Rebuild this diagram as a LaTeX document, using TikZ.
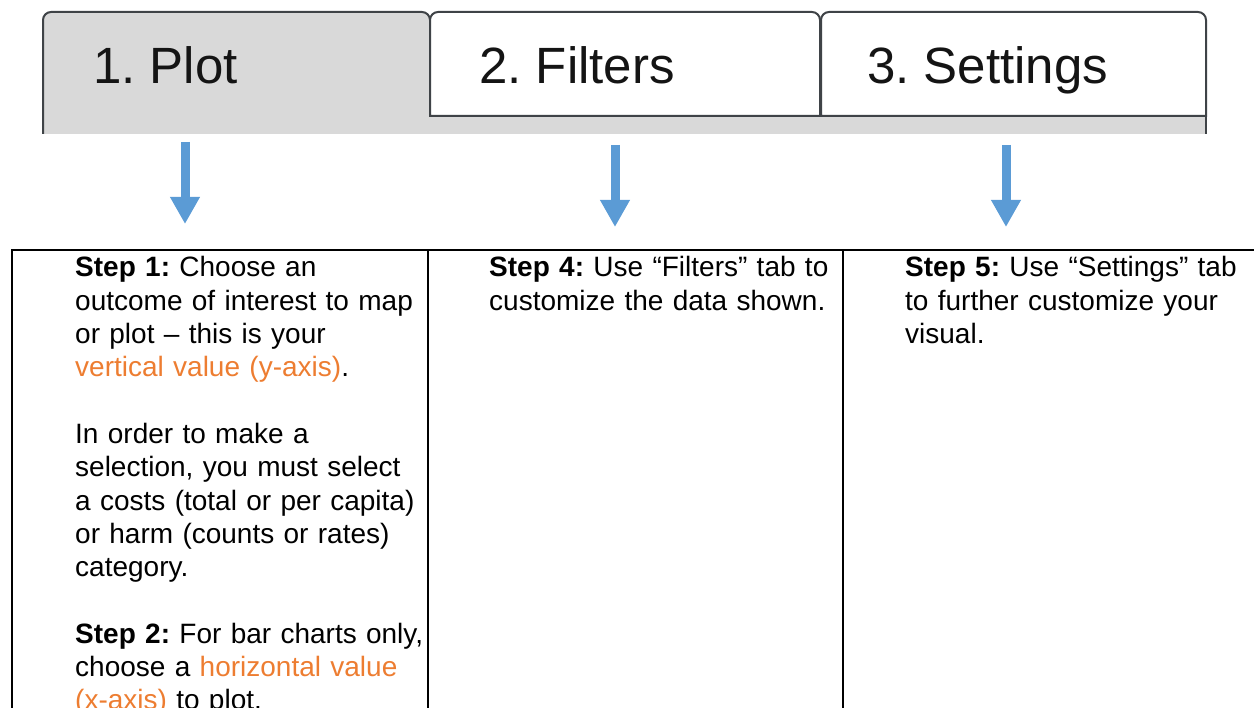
\documentclass[tikz,border=0pt]{standalone}
\usepackage{fontspec}
\setmainfont{Liberation Sans}
\usetikzlibrary{arrows.meta}
\definecolor{tabgray}{HTML}{D9D9D9}
\definecolor{tabline}{HTML}{3F4347}
\definecolor{arrowblue}{HTML}{5B9BD5}
\definecolor{hlorange}{HTML}{ED7D31}

\begin{document}
\frenchspacing
\begin{tikzpicture}[x=1pt,y=-1pt,
    tab/.style = {draw=tabline, line width=2pt},
    tablabel/.style = {anchor=base west, inner sep=0pt, text=black!92,
                font=\fontsize{51}{60}\selectfont},
    steptext/.style = {anchor=base west, inner sep=0pt, align=left,
                text width=#1, font=\fontsize{28}{33.3}\selectfont},
    steptext/.default = 390pt,  % width of one column of text
    cell/.style = {draw=black, line width=2.4pt},
    down/.style = {draw=arrowblue, line width=9pt,
                -{Triangle[width=28pt,length=27pt]}}
                    ]
    \useasboundingbox (0,0) rectangle (1254,708);
    \def\ttop{12}
    \def\tbot{116}
    \def\sbot{134}
    \def\r{8pt}
    % gray strip under the tabs
    \fill[tabgray] (43,\tbot) rectangle (1206,\sbot);
    \fill[tabgray] (43,\sbot) [rounded corners=\r] -- (43,\ttop) -- (430,\ttop) [sharp corners] -- (430,\sbot) -- cycle;
    \draw[tab] (43,\sbot) [rounded corners=\r] -- (43,\ttop) -- (430,\ttop) [sharp corners] -- (430,\tbot);
    \draw[tab,fill=white] (430,\tbot) [rounded corners=\r] -- (430,\ttop) -- (820,\ttop) [sharp corners] -- (820,\tbot) -- cycle;
    \draw[tab,fill=white] (821,\tbot) [rounded corners=\r] -- (821,\ttop) -- (1206,\ttop) [sharp corners] -- (1206,\tbot) -- cycle;
    \draw[tab] (1206,\tbot) -- (1206,\sbot);
    \node[tablabel] (plot) at (93,84) {1. Plot};
    \node[tablabel] (filters) at (479,84) {2. Filters};
    \node[tablabel] (settings) at (867,84) {3. Settings};
    % arrows
    \coordinate (a1) at (185,142);
    \coordinate (b1) at (185,224);
    \coordinate (a2) at (615,145);
    \coordinate (b2) at (615,227);
    \coordinate (a3) at (1006,145);
    \coordinate (b3) at (1006,227);
    \draw[down] (a1) -- (b1);
    \draw[down] (a2) -- (b2);
    \draw[down] (a3) -- (b3);
    % table
    \draw[cell] (12,760) -- (12,250) -- (1260,250);
    \draw[cell] (428,250) -- (428,760);
    \draw[cell] (843,250) -- (843,760);
    \node[steptext] (step1) at (75,277) {\textbf{Step 1:} Choose an\\
        outcome of interest to map\\
        or plot – this is your\\
        \textcolor{hlorange}{vertical value (y-axis)}.\\[33.3pt]
        In order to make a\\
        selection, you must select\\
        a costs (total or per capita)\\
        or harm (counts or rates)\\
        category.\\[33.3pt]
        \textbf{Step 2:} For bar charts only,\\
        choose a \textcolor{hlorange}{horizontal value}\\
        \textcolor{hlorange}{(x-axis)} to plot.};
    \node[steptext] (step4) at (489,277) {\textbf{Step 4:} Use “Filters” tab to\\
        customize the data shown.};
    \node[steptext] (step5) at (905,277) {\textbf{Step 5:} Use “Settings” tab\\
        to further customize your\\
        visual.};
\end{tikzpicture}
\end{document}
